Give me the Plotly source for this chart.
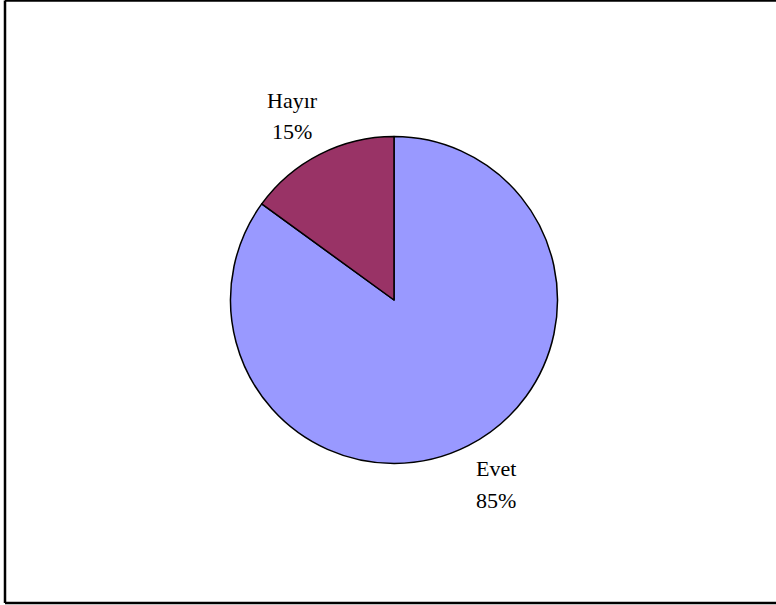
import plotly.graph_objects as go

# Survey answers and their shares (percent)
labels = ["Evet", "Hayır"]
values = [85, 15]
colors = ["#9999FF", "#993366"]

W, H = 776, 605
cx, cy, r = 394, 300, 163.5  # pie centre and radius in pixels

fig = go.Figure(
    go.Pie(
        labels=labels,
        values=values,
        sort=False,
        direction="clockwise",
        rotation=0,
        marker=dict(colors=colors, line=dict(color="black", width=1.5)),
        textinfo="none",
        hoverinfo="label+percent",
        showlegend=False,
        domain=dict(
            x=[(cx - r) / W, (cx + r) / W],
            y=[(H - cy - r) / H, (H - cy + r) / H],
        ),
    )
)

# Label positions (pixel coordinates: centre x, y of name line, y of percent line)
label_pos = {"Evet": (496, 468, 500), "Hayır": (292, 101, 131)}
total = sum(values)
font = dict(family="Liberation Serif, Times New Roman, serif", size=22, color="black")
for lab, val in zip(labels, values):
    x, y1, y2 = label_pos[lab]
    pct = f"{round(100 * val / total)}%"
    for txt, yy in ((lab, y1), (pct, y2)):
        fig.add_annotation(
            x=x / W, y=(H - yy) / H, xref="paper", yref="paper",
            text=txt, showarrow=False, font=font,
            xanchor="center", yanchor="middle",
        )

# Frame around the chart area: top, left and bottom edges
xl, yt, yb = 5 / W, (H - 0.5) / H, (H - 603) / H
for x0, y0, x1, y1 in ((xl, yt, 1.0, yt), (xl, yt, xl, yb), (xl, yb, 1.0, yb)):
    fig.add_shape(
        type="line", xref="paper", yref="paper",
        x0=x0, y0=y0, x1=x1, y1=y1,
        line=dict(color="black", width=2.5),
    )

fig.update_layout(
    width=W, height=H,
    margin=dict(l=0, r=0, t=0, b=0),
    paper_bgcolor="white", plot_bgcolor="white",
)

fig.write_html("out.html")
